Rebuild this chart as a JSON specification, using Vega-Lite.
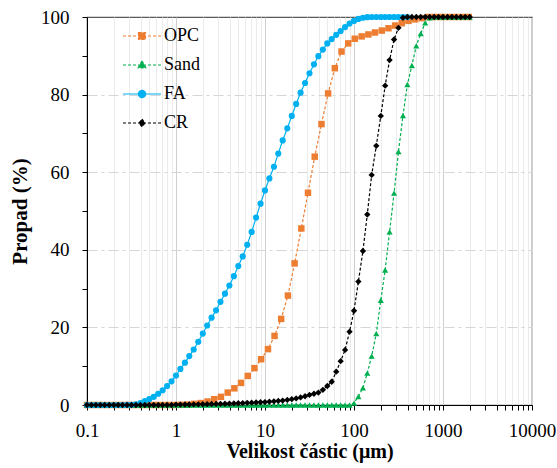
{
  "$schema": "https://vega.github.io/schema/vega-lite/v6.json",
  "width": 445,
  "height": 388,
  "autosize": "none",
  "padding": {"left": 87, "top": 17, "right": 25, "bottom": 63},
  "background": "white",
  "config": {
    "font": "Liberation Serif",
    "view": {"stroke": "#595959", "strokeWidth": 1.2},
    "axis": {"labelFont": "Liberation Serif", "titleFont": "Liberation Serif", "labelColor": "#000", "titleColor": "#000", "domainColor": "#000", "tickColor": "#000", "titleFontWeight": "bold"},
    "legend": {"labelFont": "Liberation Serif", "labelColor": "#000"}
  },
  "data": {"values": [
    {"s":"OPC","x":0.1,"y":0},{"s":"OPC","x":0.119,"y":0},{"s":"OPC","x":0.141,"y":0},{"s":"OPC","x":0.168,"y":0},{"s":"OPC","x":0.2,"y":0},{"s":"OPC","x":0.238,"y":0},{"s":"OPC","x":0.283,"y":0},{"s":"OPC","x":0.336,"y":0},{"s":"OPC","x":0.4,"y":0},{"s":"OPC","x":0.476,"y":0},{"s":"OPC","x":0.566,"y":0},{"s":"OPC","x":0.673,"y":0},{"s":"OPC","x":0.8,"y":0},{"s":"OPC","x":0.951,"y":0},{"s":"OPC","x":1.13,"y":0.05},{"s":"OPC","x":1.35,"y":0.1},{"s":"OPC","x":1.6,"y":0.3},{"s":"OPC","x":1.9,"y":0.5},{"s":"OPC","x":2.26,"y":0.9},{"s":"OPC","x":2.69,"y":1.5},{"s":"OPC","x":3.2,"y":2.1},{"s":"OPC","x":3.81,"y":3.2},{"s":"OPC","x":4.53,"y":4.3},{"s":"OPC","x":5.38,"y":5.7},{"s":"OPC","x":6.4,"y":7.5},{"s":"OPC","x":7.61,"y":9.5},{"s":"OPC","x":9.05,"y":11.8},{"s":"OPC","x":10.8,"y":14.4},{"s":"OPC","x":12.8,"y":17.8},{"s":"OPC","x":15.2,"y":22.2},{"s":"OPC","x":18.1,"y":28.2},{"s":"OPC","x":21.5,"y":36.5},{"s":"OPC","x":25.6,"y":45.5},{"s":"OPC","x":30.4,"y":54.7},{"s":"OPC","x":36.2,"y":64.0},{"s":"OPC","x":43.1,"y":72.4},{"s":"OPC","x":51.2,"y":80.3},{"s":"OPC","x":60.9,"y":86.8},{"s":"OPC","x":72.4,"y":91.1},{"s":"OPC","x":86.1,"y":93.2},{"s":"OPC","x":102,"y":94.4},{"s":"OPC","x":122,"y":95.0},{"s":"OPC","x":145,"y":95.5},{"s":"OPC","x":172,"y":96.0},{"s":"OPC","x":205,"y":96.5},{"s":"OPC","x":244,"y":97.1},{"s":"OPC","x":290,"y":97.8},{"s":"OPC","x":344,"y":98.4},{"s":"OPC","x":410,"y":99.0},{"s":"OPC","x":487,"y":99.4},{"s":"OPC","x":579,"y":99.7},{"s":"OPC","x":689,"y":100},{"s":"OPC","x":819,"y":100},{"s":"OPC","x":974,"y":100},{"s":"OPC","x":1159,"y":100},{"s":"OPC","x":1378,"y":100},{"s":"OPC","x":1638,"y":100},{"s":"OPC","x":1948,"y":100},
    {"s":"Sand","x":0.1,"y":0},{"s":"Sand","x":0.112,"y":0},{"s":"Sand","x":0.126,"y":0},{"s":"Sand","x":0.141,"y":0},{"s":"Sand","x":0.158,"y":0},{"s":"Sand","x":0.178,"y":0},{"s":"Sand","x":0.2,"y":0},{"s":"Sand","x":0.224,"y":0},{"s":"Sand","x":0.251,"y":0},{"s":"Sand","x":0.282,"y":0},{"s":"Sand","x":0.316,"y":0},{"s":"Sand","x":0.355,"y":0},{"s":"Sand","x":0.398,"y":0},{"s":"Sand","x":0.447,"y":0},{"s":"Sand","x":0.501,"y":0},{"s":"Sand","x":0.562,"y":0},{"s":"Sand","x":0.631,"y":0},{"s":"Sand","x":0.708,"y":0},{"s":"Sand","x":0.794,"y":0},{"s":"Sand","x":0.891,"y":0},{"s":"Sand","x":1,"y":0},{"s":"Sand","x":1.12,"y":0},{"s":"Sand","x":1.26,"y":0},{"s":"Sand","x":1.41,"y":0},{"s":"Sand","x":1.58,"y":0},{"s":"Sand","x":1.78,"y":0},{"s":"Sand","x":2,"y":0},{"s":"Sand","x":2.24,"y":0},{"s":"Sand","x":2.51,"y":0},{"s":"Sand","x":2.82,"y":0},{"s":"Sand","x":3.16,"y":0},{"s":"Sand","x":3.55,"y":0},{"s":"Sand","x":3.98,"y":0},{"s":"Sand","x":4.47,"y":0},{"s":"Sand","x":5.01,"y":0},{"s":"Sand","x":5.62,"y":0},{"s":"Sand","x":6.31,"y":0},{"s":"Sand","x":7.08,"y":0},{"s":"Sand","x":7.94,"y":0},{"s":"Sand","x":8.91,"y":0},{"s":"Sand","x":10,"y":0},{"s":"Sand","x":11.2,"y":0},{"s":"Sand","x":12.6,"y":0},{"s":"Sand","x":14.1,"y":0},{"s":"Sand","x":15.8,"y":0},{"s":"Sand","x":17.8,"y":0},{"s":"Sand","x":20,"y":0},{"s":"Sand","x":22.4,"y":0},{"s":"Sand","x":25.1,"y":0},{"s":"Sand","x":28.2,"y":0},{"s":"Sand","x":31.6,"y":0},{"s":"Sand","x":35.5,"y":0},{"s":"Sand","x":39.8,"y":0},{"s":"Sand","x":44.7,"y":0},{"s":"Sand","x":50.1,"y":0},{"s":"Sand","x":56.2,"y":0},{"s":"Sand","x":63.1,"y":0},{"s":"Sand","x":70.8,"y":0},{"s":"Sand","x":79.4,"y":0},{"s":"Sand","x":89.1,"y":0},{"s":"Sand","x":100,"y":0.5},{"s":"Sand","x":112,"y":2.2},{"s":"Sand","x":126,"y":4.4},{"s":"Sand","x":141,"y":8.2},{"s":"Sand","x":158,"y":12.6},{"s":"Sand","x":178,"y":18.4},{"s":"Sand","x":200,"y":27.0},{"s":"Sand","x":224,"y":34.8},{"s":"Sand","x":251,"y":44.6},{"s":"Sand","x":282,"y":54.6},{"s":"Sand","x":316,"y":65.3},{"s":"Sand","x":355,"y":74.6},{"s":"Sand","x":398,"y":82.6},{"s":"Sand","x":447,"y":87.5},{"s":"Sand","x":501,"y":92.6},{"s":"Sand","x":562,"y":95.7},{"s":"Sand","x":631,"y":98.5},{"s":"Sand","x":708,"y":99.8},{"s":"Sand","x":794,"y":100},{"s":"Sand","x":891,"y":100},{"s":"Sand","x":1000,"y":100},{"s":"Sand","x":1122,"y":100},{"s":"Sand","x":1259,"y":100},{"s":"Sand","x":1413,"y":100},{"s":"Sand","x":1585,"y":100},{"s":"Sand","x":1778,"y":100},{"s":"Sand","x":1995,"y":100},
    {"s":"FA","x":0.1,"y":0},{"s":"FA","x":0.112,"y":0},{"s":"FA","x":0.126,"y":0},{"s":"FA","x":0.141,"y":0},{"s":"FA","x":0.158,"y":0},{"s":"FA","x":0.178,"y":0},{"s":"FA","x":0.2,"y":0},{"s":"FA","x":0.224,"y":0},{"s":"FA","x":0.251,"y":0},{"s":"FA","x":0.282,"y":0.02},{"s":"FA","x":0.316,"y":0.05},{"s":"FA","x":0.355,"y":0.2},{"s":"FA","x":0.398,"y":0.5},{"s":"FA","x":0.447,"y":1.0},{"s":"FA","x":0.501,"y":1.5},{"s":"FA","x":0.562,"y":2.1},{"s":"FA","x":0.631,"y":2.9},{"s":"FA","x":0.708,"y":3.8},{"s":"FA","x":0.794,"y":4.9},{"s":"FA","x":0.891,"y":6.1},{"s":"FA","x":1,"y":7.6},{"s":"FA","x":1.12,"y":9.3},{"s":"FA","x":1.26,"y":10.9},{"s":"FA","x":1.41,"y":12.6},{"s":"FA","x":1.58,"y":14.3},{"s":"FA","x":1.78,"y":16.3},{"s":"FA","x":2,"y":18.4},{"s":"FA","x":2.24,"y":20.5},{"s":"FA","x":2.51,"y":22.5},{"s":"FA","x":2.82,"y":24.4},{"s":"FA","x":3.16,"y":26.6},{"s":"FA","x":3.55,"y":28.7},{"s":"FA","x":3.98,"y":30.8},{"s":"FA","x":4.47,"y":33.2},{"s":"FA","x":5.01,"y":35.8},{"s":"FA","x":5.62,"y":38.3},{"s":"FA","x":6.31,"y":41.3},{"s":"FA","x":7.08,"y":44.6},{"s":"FA","x":7.94,"y":48.3},{"s":"FA","x":8.91,"y":51.9},{"s":"FA","x":10,"y":55.3},{"s":"FA","x":11.2,"y":58.4},{"s":"FA","x":12.6,"y":61.4},{"s":"FA","x":14.1,"y":64.8},{"s":"FA","x":15.8,"y":68.2},{"s":"FA","x":17.8,"y":71.3},{"s":"FA","x":20,"y":74.5},{"s":"FA","x":22.4,"y":77.6},{"s":"FA","x":25.1,"y":80.5},{"s":"FA","x":28.2,"y":83.0},{"s":"FA","x":31.6,"y":85.5},{"s":"FA","x":35.5,"y":87.8},{"s":"FA","x":39.8,"y":89.9},{"s":"FA","x":44.7,"y":91.6},{"s":"FA","x":50.1,"y":93.2},{"s":"FA","x":56.2,"y":94.3},{"s":"FA","x":63.1,"y":95.4},{"s":"FA","x":70.8,"y":96.4},{"s":"FA","x":79.4,"y":97.4},{"s":"FA","x":89.1,"y":98.3},{"s":"FA","x":100,"y":99.0},{"s":"FA","x":112,"y":99.5},{"s":"FA","x":126,"y":99.8},{"s":"FA","x":141,"y":99.95},{"s":"FA","x":158,"y":100},{"s":"FA","x":178,"y":100},{"s":"FA","x":200,"y":100},{"s":"FA","x":224,"y":100},{"s":"FA","x":251,"y":100},{"s":"FA","x":282,"y":100},{"s":"FA","x":316,"y":100},{"s":"FA","x":355,"y":100},{"s":"FA","x":398,"y":100},
    {"s":"CR","x":0.1,"y":0},{"s":"CR","x":0.112,"y":0},{"s":"CR","x":0.126,"y":0},{"s":"CR","x":0.141,"y":0},{"s":"CR","x":0.158,"y":0},{"s":"CR","x":0.178,"y":0},{"s":"CR","x":0.2,"y":0},{"s":"CR","x":0.224,"y":0},{"s":"CR","x":0.251,"y":0},{"s":"CR","x":0.282,"y":0},{"s":"CR","x":0.316,"y":0},{"s":"CR","x":0.355,"y":0},{"s":"CR","x":0.398,"y":0},{"s":"CR","x":0.447,"y":0},{"s":"CR","x":0.501,"y":0},{"s":"CR","x":0.562,"y":0},{"s":"CR","x":0.631,"y":0},{"s":"CR","x":0.708,"y":0},{"s":"CR","x":0.794,"y":0},{"s":"CR","x":0.891,"y":0},{"s":"CR","x":1,"y":0.1},{"s":"CR","x":1.12,"y":0.1},{"s":"CR","x":1.26,"y":0.12},{"s":"CR","x":1.41,"y":0.13},{"s":"CR","x":1.58,"y":0.15},{"s":"CR","x":1.78,"y":0.17},{"s":"CR","x":2,"y":0.2},{"s":"CR","x":2.24,"y":0.22},{"s":"CR","x":2.51,"y":0.25},{"s":"CR","x":2.82,"y":0.27},{"s":"CR","x":3.16,"y":0.3},{"s":"CR","x":3.55,"y":0.33},{"s":"CR","x":3.98,"y":0.36},{"s":"CR","x":4.47,"y":0.4},{"s":"CR","x":5.01,"y":0.45},{"s":"CR","x":5.62,"y":0.5},{"s":"CR","x":6.31,"y":0.55},{"s":"CR","x":7.08,"y":0.6},{"s":"CR","x":7.94,"y":0.65},{"s":"CR","x":8.91,"y":0.7},{"s":"CR","x":10,"y":0.75},{"s":"CR","x":11.2,"y":0.85},{"s":"CR","x":12.6,"y":0.95},{"s":"CR","x":14.1,"y":1.05},{"s":"CR","x":15.8,"y":1.15},{"s":"CR","x":17.8,"y":1.3},{"s":"CR","x":20,"y":1.5},{"s":"CR","x":22.4,"y":1.7},{"s":"CR","x":25.1,"y":1.95},{"s":"CR","x":28.2,"y":2.25},{"s":"CR","x":31.6,"y":2.6},{"s":"CR","x":35.5,"y":2.9},{"s":"CR","x":39.8,"y":3.2},{"s":"CR","x":44.7,"y":3.9},{"s":"CR","x":50.1,"y":4.9},{"s":"CR","x":56.2,"y":6.0},{"s":"CR","x":63.1,"y":8.6},{"s":"CR","x":70.8,"y":11.3},{"s":"CR","x":79.4,"y":14.2},{"s":"CR","x":89.1,"y":18.9},{"s":"CR","x":100,"y":24.3},{"s":"CR","x":112,"y":31.8},{"s":"CR","x":126,"y":39.7},{"s":"CR","x":141,"y":49.1},{"s":"CR","x":158,"y":59.3},{"s":"CR","x":178,"y":66.8},{"s":"CR","x":200,"y":74.5},{"s":"CR","x":224,"y":82.3},{"s":"CR","x":251,"y":88.9},{"s":"CR","x":282,"y":94.2},{"s":"CR","x":316,"y":97.2},{"s":"CR","x":355,"y":99.8},{"s":"CR","x":398,"y":100},{"s":"CR","x":447,"y":100},{"s":"CR","x":501,"y":100},{"s":"CR","x":562,"y":100},{"s":"CR","x":631,"y":100},{"s":"CR","x":708,"y":100},{"s":"CR","x":794,"y":100},{"s":"CR","x":891,"y":100},{"s":"CR","x":1000,"y":100},{"s":"CR","x":1122,"y":100},{"s":"CR","x":1259,"y":100},{"s":"CR","x":1413,"y":100},{"s":"CR","x":1585,"y":100},{"s":"CR","x":1778,"y":100},{"s":"CR","x":1995,"y":100}
  ]},
  "encoding": {
    "x": {"field": "x", "type": "quantitative",
      "scale": {"type": "log", "domain": [0.1, 10000], "nice": false},
      "axis": {
        "title": "Velikost částic (μm)",
        "labelFont": "Liberation Serif", "titleFont": "Liberation Serif", "labelFontSize": 19, "titleFontSize": 20, "titleFontWeight": "bold",
        "values": [0.1,0.2,0.3,0.4,0.5,0.6,0.7,0.8,0.9,1,2,3,4,5,6,7,8,9,10,20,30,40,50,60,70,80,90,100,200,300,400,500,600,700,800,900,1000,2000,3000,4000,5000,6000,7000,8000,9000,10000],
        "labelExpr": "abs(log(datum.value)/LN10 - round(log(datum.value)/LN10)) < 0.001 ? format(datum.value, '~g') : ''",
        "labelPadding": 11, "tickSize": 5, "titlePadding": 1,
        "labelFlush": false, "labelOverlap": false,
        "grid": true,
        "gridColor": {"condition": {"test": "abs(log(datum.value)/LN10 - round(log(datum.value)/LN10)) < 0.001", "value": "#cfcfcf"}, "value": "#ebebeb"},
        "gridWidth": 1
      }},
    "y": {"field": "y", "type": "quantitative",
      "scale": {"domain": [0, 100], "nice": false},
      "axis": {
        "title": "Propad (%)",
        "labelFont": "Liberation Serif", "titleFont": "Liberation Serif", "labelFontSize": 19, "titleFontSize": 21, "titleFontWeight": "bold",
        "values": [0,10,20,30,40,50,60,70,80,90,100],
        "labelExpr": "datum.value % 20 === 0 ? datum.label : ''",
        "labelPadding": 13, "tickSize": 5, "titlePadding": 10,
        "grid": true, "gridColor": "#d6d6d6", "gridDash": [10, 4, 3, 4],
        "gridOpacity": {"condition": {"test": "datum.value % 20 === 0 && datum.value > 0 && datum.value < 100", "value": 1}, "value": 0}
      }},
    "color": {"field": "s", "type": "nominal",
      "scale": {"domain": ["OPC", "Sand", "FA", "CR"], "range": ["#ED7D31", "#00B050", "#00B0F0", "#000000"]}}
  },
  "layer": [
    {
      "mark": {"type": "line", "strokeWidth": 1.2},
      "encoding": {
        "strokeDash": {"field": "s", "type": "nominal", "legend": null,
          "scale": {"domain": ["OPC", "Sand", "FA", "CR"], "range": [[3, 2], [3, 2], [1, 0], [3, 2]]}},
        "color": {"field": "s", "type": "nominal",
          "scale": {"domain": ["OPC", "Sand", "FA", "CR"], "range": ["#ED7D31", "#00B050", "#00B0F0", "#000000"]},
          "legend": {
            "title": null, "orient": "none", "legendX": 44, "legendY": 8,
            "symbolSize": 400, "symbolStrokeWidth": 1.2, "labelOffset": 11, "rowPadding": 9,
            "labelFont": "Liberation Serif", "labelFontSize": 18,
            "encode": {"symbols": {"update": {
              "shape": {"signal": "datum.value === 'OPC' ? 'M-1.9,0H-1.6M-1.4,0H-1.1M-0.9,0H-0.6M-0.4,0H-0.1M0.1,0H0.4M0.6,0H0.9M1.1,0H1.4M1.6,0H1.9M-0.35,-0.35H0.35V0.35H-0.35Z' : datum.value === 'Sand' ? 'M-1.9,0H-1.6M-1.4,0H-1.1M-0.9,0H-0.6M-0.4,0H-0.1M0.1,0H0.4M0.6,0H0.9M1.1,0H1.4M1.6,0H1.9M0,-0.4L0.38,0.28H-0.38Z' : datum.value === 'FA' ? 'M-1.9,0H1.9M-0.36,0A0.36,0.36,0,1,0,0.36,0A0.36,0.36,0,1,0,-0.36,0Z' : 'M-1.9,0H-1.6M-1.4,0H-1.1M-0.9,0H-0.6M-0.4,0H-0.1M0.1,0H0.4M0.6,0H0.9M1.1,0H1.4M1.6,0H1.9M0,-0.38L0.3,0L0,0.38L-0.3,0Z'"},
              "size": {"value": 400},
              "fill": {"signal": "scale('color', datum.value)"},
              "stroke": {"signal": "scale('color', datum.value)"},
              "strokeDash": {"value": [1, 0]},
              "opacity": {"value": 1}
            }}}
          }}
      }
    },
    {
      "transform": [{"filter": {"field": "s", "equal": "OPC"}}],
      "mark": {"type": "point", "filled": true, "opacity": 1, "strokeWidth": 0, "size": 42, "shape": "square"}
    },
    {
      "transform": [{"filter": {"field": "s", "equal": "Sand"}}],
      "mark": {"type": "point", "filled": true, "opacity": 1, "strokeWidth": 0, "size": 38, "shape": "triangle-up"}
    },
    {
      "transform": [{"filter": {"field": "s", "equal": "FA"}}],
      "mark": {"type": "point", "filled": true, "opacity": 1, "strokeWidth": 0, "size": 38, "shape": "circle"}
    },
    {
      "transform": [{"filter": {"field": "s", "equal": "CR"}}],
      "mark": {"type": "point", "filled": true, "opacity": 1, "strokeWidth": 0, "size": 40, "shape": "diamond"}
    }
  ]
}
